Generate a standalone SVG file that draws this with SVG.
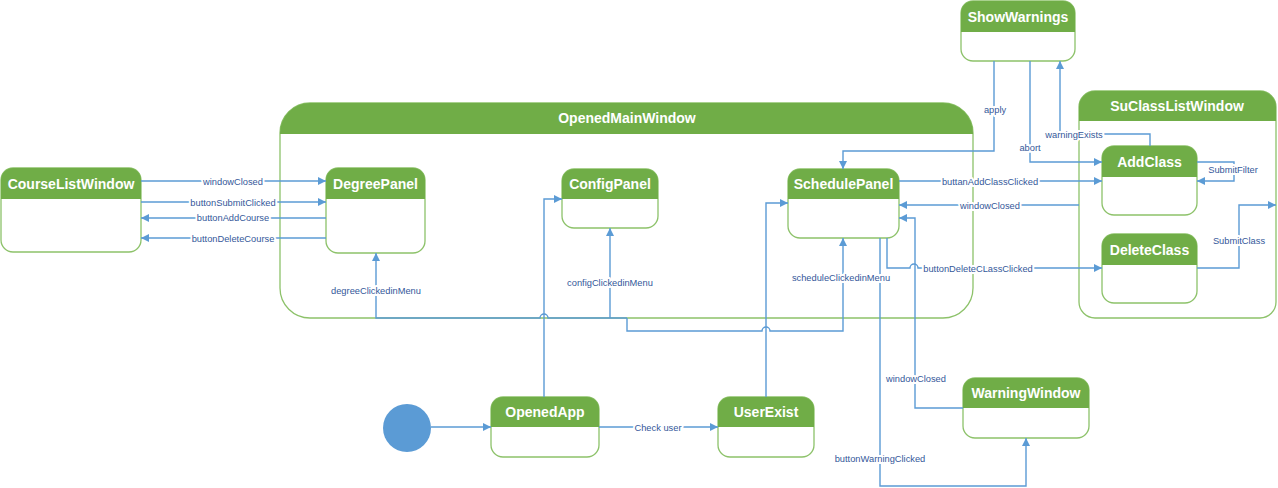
<svg xmlns="http://www.w3.org/2000/svg" width="1278" height="488" viewBox="0 0 1278 488">
<style>
.body{fill:#fff;stroke:#8DC26A;stroke-width:1.3}
.head{fill:#70AD47}
.title{font-family:"Liberation Sans",Arial,sans-serif;font-weight:bold;font-size:14px;fill:#fff;text-anchor:middle}
.c{fill:none;stroke:#5B9BD5;stroke-width:1.4}
.lbl{font-family:"Liberation Sans",Arial,sans-serif;font-size:9.3px;fill:#34589A;text-anchor:middle;stroke:#fff;stroke-width:4;paint-order:stroke;stroke-linejoin:round}
</style>
<defs>
<marker id="arr" viewBox="0 0 10 10" refX="10" refY="5" markerWidth="8" markerHeight="8" markerUnits="userSpaceOnUse" orient="auto">
<path d="M0,0 L10,5 L0,10 Z" fill="#5B9BD5"/>
</marker>
</defs>
<rect width="1278" height="488" fill="#fff"/>

<g id="OpenedMainWindow">
<rect class="body" x="280" y="103" width="693" height="215" rx="30"/>
<path class="head" d="M280,134 V133 A30,30 0 0 1 310,103 H943 A30,30 0 0 1 973,133 V134 Z"/>
<text class="title" x="627" y="123">OpenedMainWindow</text>
</g>

<g id="SuClassListWindow">
<rect class="body" x="1079" y="91" width="197" height="227" rx="16"/>
<path class="head" d="M1079,121 V107 A16,16 0 0 1 1095,91 H1260 A16,16 0 0 1 1276,107 V121 Z"/>
<text class="title" x="1177" y="111">SuClassListWindow</text>
</g>

<g id="CourseListWindow">
<rect class="body" x="1" y="168" width="140" height="84" rx="12"/>
<path class="head" d="M1,199 V180 A12,12 0 0 1 13,168 H129 A12,12 0 0 1 141,180 V199 Z"/>
<text class="title" x="71" y="189">CourseListWindow</text>
</g>

<g id="DegreePanel">
<rect class="body" x="326" y="168" width="99" height="85" rx="12"/>
<path class="head" d="M326,199 V180 A12,12 0 0 1 338,168 H413 A12,12 0 0 1 425,180 V199 Z"/>
<text class="title" x="375.5" y="189">DegreePanel</text>
</g>

<g id="ConfigPanel">
<rect class="body" x="562" y="169" width="96" height="59" rx="12"/>
<path class="head" d="M562,199 V181 A12,12 0 0 1 574,169 H646 A12,12 0 0 1 658,181 V199 Z"/>
<text class="title" x="610" y="189">ConfigPanel</text>
</g>

<g id="SchedulePanel">
<rect class="body" x="788" y="169" width="111" height="69" rx="12"/>
<path class="head" d="M788,199 V181 A12,12 0 0 1 800,169 H887 A12,12 0 0 1 899,181 V199 Z"/>
<text class="title" x="843.5" y="189">SchedulePanel</text>
</g>

<g id="ShowWarnings">
<rect class="body" x="961" y="1" width="114" height="60" rx="12"/>
<path class="head" d="M961,32 V13 A12,12 0 0 1 973,1 H1063 A12,12 0 0 1 1075,13 V32 Z"/>
<text class="title" x="1018" y="22">ShowWarnings</text>
</g>

<g id="AddClass">
<rect class="body" x="1102" y="146" width="95" height="69" rx="12"/>
<path class="head" d="M1102,177 V158 A12,12 0 0 1 1114,146 H1185 A12,12 0 0 1 1197,158 V177 Z"/>
<text class="title" x="1149.5" y="167">AddClass</text>
</g>

<g id="DeleteClass">
<rect class="body" x="1102" y="234" width="95" height="69" rx="12"/>
<path class="head" d="M1102,265 V246 A12,12 0 0 1 1114,234 H1185 A12,12 0 0 1 1197,246 V265 Z"/>
<text class="title" x="1149.5" y="255">DeleteClass</text>
</g>

<g id="WarningWindow">
<rect class="body" x="963" y="378" width="126" height="60" rx="12"/>
<path class="head" d="M963,408 V390 A12,12 0 0 1 975,378 H1077 A12,12 0 0 1 1089,390 V408 Z"/>
<text class="title" x="1026" y="398">WarningWindow</text>
</g>

<g id="OpenedApp">
<rect class="body" x="491" y="397" width="108" height="60" rx="12"/>
<path class="head" d="M491,427 V409 A12,12 0 0 1 503,397 H587 A12,12 0 0 1 599,409 V427 Z"/>
<text class="title" x="545" y="417">OpenedApp</text>
</g>

<g id="UserExist">
<rect class="body" x="718" y="397" width="96" height="60" rx="12"/>
<path class="head" d="M718,427 V409 A12,12 0 0 1 730,397 H802 A12,12 0 0 1 814,409 V427 Z"/>
<text class="title" x="766" y="417">UserExist</text>
</g>

<g id="Initial">
<circle cx="407" cy="428" r="24" fill="#5B9BD5"/>
</g>

<g id="connectors">
<path class="c" d="M141,181 H326" marker-end="url(#arr)"/>
<path class="c" d="M141,202 H326" marker-end="url(#arr)"/>
<path class="c" d="M326,218 H141" marker-end="url(#arr)"/>
<path class="c" d="M326,238 H141" marker-end="url(#arr)"/>
<path class="c" d="M627,318 H548 A4,4 0 0 0 540,318 H376 V253" marker-end="url(#arr)"/>
<path class="c" d="M610,318 V228" marker-end="url(#arr)"/>
<path class="c" d="M627,318 V331 H762 A4,4 0 0 1 770,331 H843 V238" marker-end="url(#arr)"/>
<path class="c" d="M544,397 V199 H562" marker-end="url(#arr)"/>
<path class="c" d="M766,397 V203 H788" marker-end="url(#arr)"/>
<path class="c" d="M431,427 H491" marker-end="url(#arr)"/>
<path class="c" d="M599,427 H718" marker-end="url(#arr)"/>
<path class="c" d="M994,61 V151 H843 V169" marker-end="url(#arr)"/>
<path class="c" d="M1030,61 V162 H1102" marker-end="url(#arr)"/>
<path class="c" d="M1150,146 V134 H1060 V61" marker-end="url(#arr)"/>
<path class="c" d="M1197,162 H1234 V181 H1197" marker-end="url(#arr)"/>
<path class="c" d="M1197,268 H1239 V205 H1276" marker-end="url(#arr)"/>
<path class="c" d="M899,181 H1102" marker-end="url(#arr)"/>
<path class="c" d="M1079,205 H899" marker-end="url(#arr)"/>
<path class="c" d="M887,238 V268 H910 A4,4 0 0 1 918,268 H1102" marker-end="url(#arr)"/>
<path class="c" d="M963,408 H915 V218 H899" marker-end="url(#arr)"/>
<path class="c" d="M880,238 V486 H1026 V438" marker-end="url(#arr)"/>

<text class="lbl" x="233" y="184.5">windowClosed</text>
<text class="lbl" x="233" y="205.5">buttonSubmitClicked</text>
<text class="lbl" x="233" y="221">buttonAddCourse</text>
<text class="lbl" x="233" y="241.5">buttonDeleteCourse</text>
<text class="lbl" x="376" y="293.5">degreeClickedinMenu</text>
<text class="lbl" x="610" y="285.5">configClickedinMenu</text>
<text class="lbl" x="841" y="280.5">scheduleClickedinMenu</text>
<text class="lbl" x="658" y="430.5">Check user</text>
<text class="lbl" x="995" y="112.5">apply</text>
<text class="lbl" x="1030" y="150.5">abort</text>
<text class="lbl" x="1074" y="137.5">warningExists</text>
<text class="lbl" x="1233" y="172.5">SubmitFilter</text>
<text class="lbl" x="1239" y="243.5">SubmitClass</text>
<text class="lbl" x="990" y="184.5">buttanAddClassClicked</text>
<text class="lbl" x="990" y="208.5">windowClosed</text>
<text class="lbl" x="978" y="271.5">buttonDeleteCLassClicked</text>
<text class="lbl" x="916" y="381.5">windowClosed</text>
<text class="lbl" x="880" y="461.5">buttonWarningClicked</text>
</g>
</svg>
